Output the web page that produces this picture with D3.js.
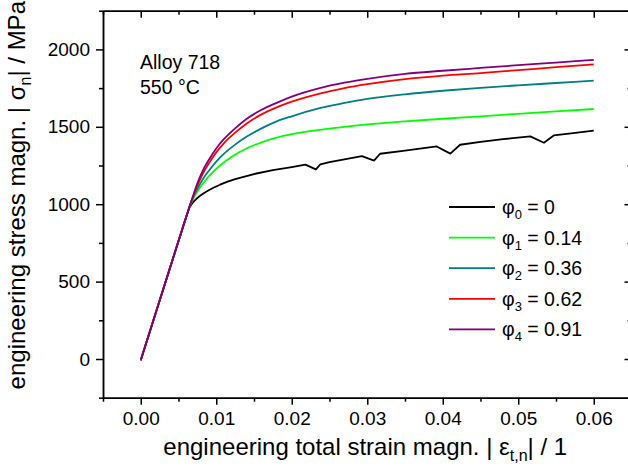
<!DOCTYPE html>
<html><head><meta charset="utf-8">
<script src="https://cdn.jsdelivr.net/npm/d3@7"></script>
<style>
body{margin:0;background:#fff}
svg{display:block}
text{font-family:"Liberation Sans",Arial,sans-serif;fill:#000}
</style>
</head><body>
<svg id="c" width="628" height="472"></svg>
<script>
// ---- data ----
const xTicks = [0, 0.01, 0.02, 0.03, 0.04, 0.05, 0.06];
const xMinor = [-0.005, 0.005, 0.015, 0.025, 0.035, 0.045, 0.055, 0.065];
const yTicks = [0, 500, 1000, 1500, 2000];
const yMinor = [-250, 250, 750, 1250, 1750, 2250];

const phiIndex = ["0", "1", "2", "3", "4"];
const phiValue = ["0", "0.14", "0.36", "0.62", "0.91"];
const seriesColors = ["#000000", "#00ff00", "#008080", "#ff0000", "#800080"];

const strain0 = [0,0.002,0.004,0.006,0.0062,0.0065,0.0068,0.0071,0.0075,0.008,0.0085,0.009,0.0097,0.0105,0.0115,0.0125,0.015,0.0175,0.020,0.0218,0.0232,0.0238,0.025,0.0275,0.0293,0.0309,0.0317,0.035,0.0392,0.0410,0.0423,0.045,0.048,0.0516,0.0534,0.0547,0.057,0.060];
const stress0 = [-8,300,608,915,945,982,1005,1022,1040,1060,1076,1090,1108,1126,1146,1162,1195,1220,1240,1256,1225,1258,1272,1295,1310,1281,1326,1346,1373,1327,1384,1403,1420,1438,1397,1444,1458,1475];

const strain1 = [0,0.002,0.004,0.006,0.0064,0.0068,0.0072,0.0078,0.0085,0.0095,0.0105,0.012,0.014,0.016,0.018,0.020,0.0237,0.027,0.030,0.035,0.040,0.045,0.050,0.055,0.060];
const stress1 = [-8,300,608,915,975,1020,1058,1105,1150,1205,1250,1305,1360,1400,1430,1452,1480,1500,1515,1535,1552,1568,1584,1600,1615];

const strain2 = [0,0.002,0.004,0.006,0.0066,0.007,0.0075,0.0082,0.009,0.010,0.011,0.0125,0.014,0.016,0.018,0.020,0.0237,0.027,0.030,0.035,0.040,0.045,0.050,0.055,0.060];
const stress2 = [-8,300,608,915,1005,1052,1100,1160,1215,1275,1325,1385,1435,1490,1535,1568,1620,1655,1680,1710,1733,1752,1768,1783,1798];

const strain3 = [0,0.002,0.004,0.006,0.0068,0.0075,0.0082,0.009,0.010,0.011,0.0125,0.014,0.016,0.018,0.020,0.0237,0.027,0.030,0.035,0.040,0.045,0.050,0.055,0.060];
const stress3 = [-8,300,608,915,1030,1120,1195,1262,1335,1393,1462,1520,1580,1625,1662,1714,1750,1775,1808,1830,1847,1866,1885,1903];

const strain4 = [0,0.002,0.004,0.006,0.0068,0.0075,0.0082,0.009,0.010,0.011,0.0125,0.014,0.016,0.018,0.020,0.0237,0.027,0.030,0.035,0.040,0.045,0.050,0.055,0.060];
const stress4 = [-8,300,608,915,1035,1135,1215,1285,1360,1420,1490,1550,1610,1655,1695,1750,1785,1810,1842,1862,1880,1898,1915,1932];

const strains = [strain0, strain1, strain2, strain3, strain4];
const stresses = [stress0, stress1, stress2, stress3, stress4];

// ---- layout ----
const svg = d3.select("#c");
const L = 103, R = 631.5, T = 10.7, B = 397.7;
const x = d3.scaleLinear().domain([-0.005, 0.065]).range([L, R]);
const y = d3.scaleLinear().domain([-250, 2250]).range([B, T]);

const smooth = d3.line().x(d => x(d[0])).y(d => y(d[1])).curve(d3.curveMonotoneX);
const straight = d3.line().x(d => x(d[0])).y(d => y(d[1])).curve(d3.curveLinear);
const plot = svg.append("g");
strains.forEach((s, i) => {
  const pts = s.map((v, j) => [v, stresses[i][j]]);
  plot.append("path").datum(pts).attr("d", i === 0 ? straight : smooth)
    .attr("fill", "none").attr("stroke", seriesColors[i])
    .attr("stroke-width", 1.8).attr("stroke-linejoin", "round");
});

function styleAxis(g) {
  g.select(".domain").attr("stroke", "#000").attr("stroke-width", 1.5);
  g.selectAll(".tick line").attr("stroke", "#000").attr("stroke-width", 1.5);
  g.selectAll(".tick text").style("font-size", "19px").style("font-family", '"Liberation Sans",Arial,sans-serif');
}

// bottom
const gb = svg.append("g").attr("transform", `translate(0,${B})`)
  .call(d3.axisBottom(x).tickValues(xTicks).tickFormat(d3.format(".2f")).tickSize(7).tickSizeOuter(0).tickPadding(7));
styleAxis(gb);
const gbm = svg.append("g").attr("transform", `translate(0,${B})`)
  .call(d3.axisBottom(x).tickValues(xMinor).tickFormat("").tickSize(4).tickSizeOuter(0));
styleAxis(gbm);
// left
const gl = svg.append("g").attr("transform", `translate(${L},0)`)
  .call(d3.axisLeft(y).tickValues(yTicks).tickFormat(d3.format("d")).tickSize(7).tickSizeOuter(0).tickPadding(6));
styleAxis(gl);
const glm = svg.append("g").attr("transform", `translate(${L},0)`)
  .call(d3.axisLeft(y).tickValues(yMinor).tickFormat("").tickSize(4).tickSizeOuter(0));
styleAxis(glm);
// top
const gt = svg.append("g").attr("transform", `translate(0,${T})`)
  .call(d3.axisTop(x).tickValues(xTicks).tickFormat("").tickSize(-7).tickSizeOuter(0));
styleAxis(gt);
const gtm = svg.append("g").attr("transform", `translate(0,${T})`)
  .call(d3.axisTop(x).tickValues(xMinor).tickFormat("").tickSize(-4).tickSizeOuter(0));
styleAxis(gtm);
// right
const gr = svg.append("g").attr("transform", `translate(${R},0)`)
  .call(d3.axisRight(y).tickValues(yTicks).tickFormat("").tickSize(-7).tickSizeOuter(0));
styleAxis(gr);
const grm = svg.append("g").attr("transform", `translate(${R},0)`)
  .call(d3.axisRight(y).tickValues(yMinor).tickFormat("").tickSize(-4).tickSizeOuter(0));
styleAxis(grm);

// axis titles
const xt = svg.append("text").attr("x", (L + R) / 2 - 2).attr("y", 455)
  .attr("text-anchor", "middle").style("font-size", "24px");
xt.append("tspan").text("engineering total strain magn. | ε");
xt.append("tspan").attr("dy", 6).style("font-size", "16px").text("t,n");
xt.append("tspan").attr("dy", -6).text("| / 1");

const yt = svg.append("text").attr("transform", `translate(25,${(T + B) / 2 - 9}) rotate(-90)`)
  .attr("text-anchor", "middle").style("font-size", "24px");
yt.append("tspan").text("engineering stress magn. | σ");
yt.append("tspan").attr("dy", 6).style("font-size", "16px").text("n");
yt.append("tspan").attr("dy", -6).text("| / MPa");

// annotation
svg.append("text").attr("x", 140).attr("y", 69).style("font-size", "19.5px").text("Alloy 718");
svg.append("text").attr("x", 140).attr("y", 94).style("font-size", "19.5px").text("550 °C");

// legend
phiIndex.forEach((p, i) => {
  const ry = 207 + i * 30.6;
  svg.append("line").attr("x1", 449).attr("x2", 495).attr("y1", ry).attr("y2", ry)
    .attr("stroke", seriesColors[i]).attr("stroke-width", 1.8);
  const t = svg.append("text").attr("x", 502).attr("y", ry + 7).style("font-size", "19.5px");
  t.append("tspan").text("φ");
  t.append("tspan").attr("dy", 5).style("font-size", "13px").text(p);
  t.append("tspan").attr("dy", -5).text(" = " + phiValue[i]);
});
</script>
</body></html>
